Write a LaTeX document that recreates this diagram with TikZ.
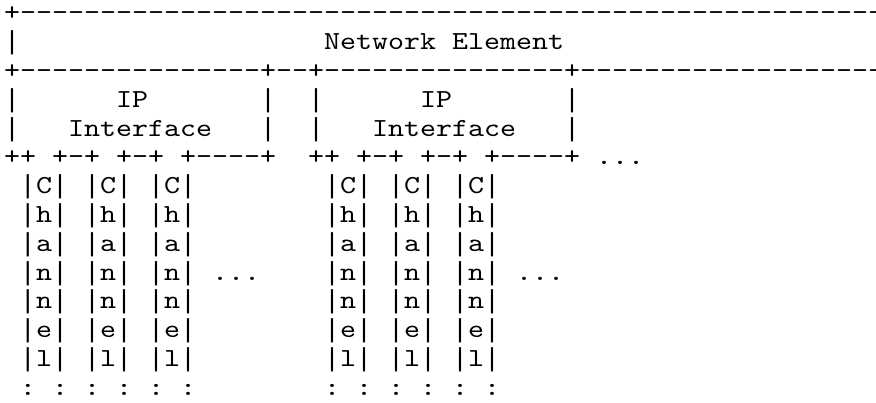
\documentclass[tikz,border=0pt]{standalone}
\usepackage{fontspec}
\newfontfamily\asciifont[FakeStretch=1.1722,Ligatures=TeXOff]{lmmono10-regular.otf}
\newfontfamily\barfont[FakeStretch=1.0256]{Liberation Mono}
\newcommand\vbar{{\barfont|}}
\tikzset{
  ascii/.style={anchor=base west, inner sep=0pt, outer sep=0pt,
    font=\asciifont\fontsize{19.5pt}{21.6pt}\selectfont},
}

\begin{document}
\begin{tikzpicture}[x=12pt,y=-21.6pt]
  \clip (-0.25,-0.729) rectangle (54.5,13.264);
  % network element
  \node[ascii] (netTop) at (0,0) {+------------------------------------------------------};
  \node[ascii] (netLeft) at (0,1) {\vbar};
  \node[ascii] (netName) at (20,1) {Network};
  \node[ascii] (netNameB) at (28,1) {Element};
  \node[ascii] (ifTop) at (0,2) {+---------------+--+---------------+-------------------};
  % ip interfaces
  \foreach \c/\t [count=\i] in {0/\vbar,7/IP,16/\vbar,19/\vbar,26/IP,35/\vbar}
    \node[ascii] (ipRow-\i) at (\c,3) {\t};
  \foreach \c/\t [count=\i] in {0/\vbar,4/Interface,16/\vbar,19/\vbar,23/Interface,35/\vbar}
    \node[ascii] (ifRow-\i) at (\c,4) {\t};
  \foreach \c/\t [count=\i] in {0/++,3/+-+,7/+-+,11/+----+,19/++,22/+-+,26/+-+,30/+----+}
    \node[ascii] (ifBottom-\i) at (\c,5) {\t};
  \node[ascii] (moreIf) at (37,5) {...};
  % channels
  \foreach \ch [count=\r from 6] in {C,h,a,n,n,e,l}
    \foreach \c in {1,5,9,20,24,28}
      \node[ascii] (chan-\r-\c) at (\c,\r) {\vbar\ch\vbar};
  \node[ascii] (moreA) at (13,9) {...};
  \node[ascii] (moreB) at (32,9) {...};
  \foreach \c in {1,3,5,7,9,11,20,22,24,26,28,30}
    \node[ascii] (colon-\c) at (\c,13) {:};
\end{tikzpicture}
\end{document}
